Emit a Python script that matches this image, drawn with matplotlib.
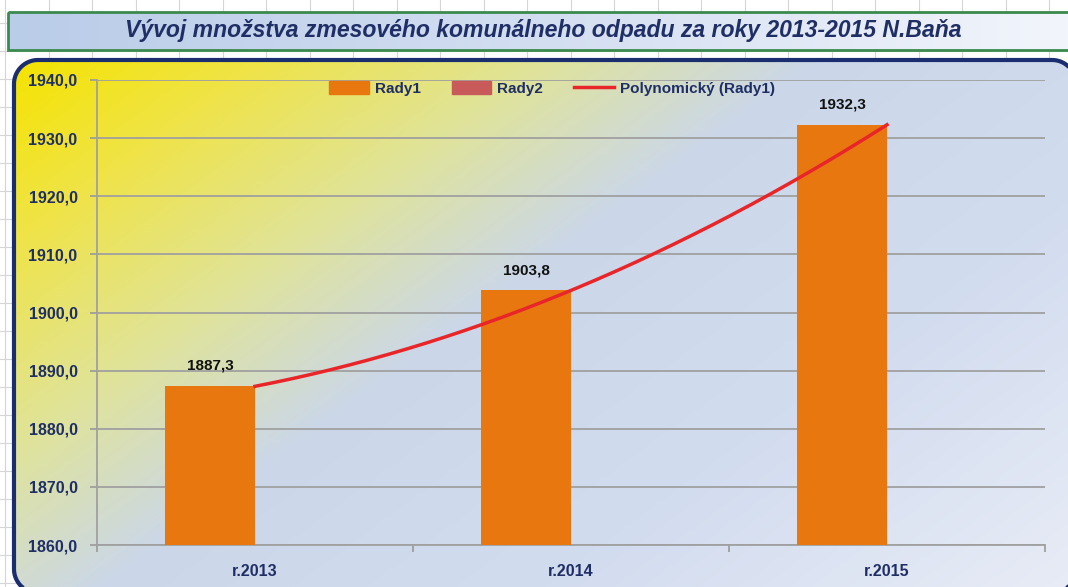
import numpy as np
import matplotlib.pyplot as plt
from matplotlib.patches import Rectangle, Patch, Polygon
from matplotlib.lines import Line2D
from matplotlib.colors import LinearSegmentedColormap

# data
categories = ['r.2013', 'r.2014', 'r.2015']
rady1 = [1887.3, 1903.8, 1932.3]
value_labels = ['1887,3', '1903,8', '1932,3']
y_ticks = [1860, 1870, 1880, 1890, 1900, 1910, 1920, 1930, 1940]
title = 'Vývoj množstva zmesového komunálneho odpadu za roky 2013-2015 N.Baňa'

W, H = 1068, 587
navy = '#1F2F66'
fig = plt.figure(figsize=(W / 100, H / 100), dpi=100)
fig.patch.set_facecolor('white')

# background layer in pixel coordinates
bg = fig.add_axes([0, 0, 1, 1])
bg.axis('off')

# spreadsheet grid behind the chart
for k in range(26):
    bg.plot([5 + 43.5 * k] * 2, [0, H], color='#d6d6d6', lw=0.8, zorder=0)
for k in range(-3, 20):
    bg.plot([0, W], [79 + 28 * k] * 2, color='#d6d6d6', lw=0.8, zorder=0)

# title box
tbox = Rectangle((8, 12), W - 6, 38, facecolor='none', edgecolor='#3a8a4e', lw=2, zorder=3)
bg.add_patch(tbox)
tgrad = np.linspace(0, 1, 256).reshape(1, -1)
tcmap = LinearSegmentedColormap.from_list('t', ['#b9cce8', '#d3def1', '#f2f5fb'])
im = bg.imshow(tgrad, cmap=tcmap, extent=[8, W + 2, 50, 12], aspect='auto', zorder=2)
im.set_clip_path(tbox)
bg.text(543, 31, title, ha='center', va='center', fontsize=16.6, fontweight='bold',
        fontstyle='italic', color=navy, family='Liberation Sans', zorder=4)

# chart area: rounded outline built from arcs
x0, y0, x1, y1, r = 14, 60, 1076, 593, 24
def arc(cx, cy, a0, a1):
    a = np.radians(np.linspace(a0, a1, 30))
    return np.column_stack([cx + r * np.cos(a), cy + r * np.sin(a)])
outline = np.vstack([arc(x0 + r, y0 + r, 180, 270), arc(x1 - r, y0 + r, 270, 360),
                     arc(x1 - r, y1 - r, 0, 90), arc(x0 + r, y1 - r, 90, 180)])
cbox = Polygon(outline, closed=True, facecolor='none', edgecolor='#1a2d6e', lw=3, zorder=3)
bg.add_patch(cbox)
xx, yy = np.meshgrid(np.linspace(0, x1 - x0, 400), np.linspace(0, y1 - y0, 250))
t = (xx * 390 + yy * 530) / ((x1 - x0) * 390 + (y1 - y0) * 530)
ccmap = LinearSegmentedColormap.from_list('c', [(0, '#f5e300'), (0.14, '#efe44a'),
                                                (0.30, '#dfe39c'), (0.45, '#cbd7e9'),
                                                (0.7, '#d2dcef'), (1, '#e8ecf6')])
im2 = bg.imshow(t, cmap=ccmap, vmin=0, vmax=1, extent=[x0, x1, y1, y0],
                aspect='auto', zorder=2)
im2.set_clip_path(cbox)
bg.set_xlim(0, W)
bg.set_ylim(H, 0)

# plot area
ax = fig.add_axes([97 / W, 1 - 545 / H, (1045 - 97) / W, (545 - 80) / H])
ax.set_facecolor('none')
x = np.arange(1, len(categories) + 1)
bw = 0.285
ax.bar(x - bw / 2, rady1, width=bw, color='#e8770f', zorder=3)

# polynomial trend (order 2)
coef = np.polyfit(x, rady1, 2)
xs = np.linspace(1, 3, 200)
ax.plot(xs, np.polyval(coef, xs), color='#e8262a', lw=2.5, zorder=4)

for xi, v, lab in zip(x, rady1, value_labels):
    ax.text(xi - bw / 2, v + 2.3, lab, ha='center', va='bottom', fontsize=11,
            fontweight='bold', color='#111111', family='Liberation Sans', zorder=5)

ax.set_xlim(0.5, 3.5)
ax.set_ylim(1860, 1940)
ax.set_yticks(y_ticks)
ax.set_yticklabels([f'{v},0' for v in y_ticks])
ax.set_xticks([0.5, 1.5, 2.5, 3.5])
ax.set_xticklabels([])
ax.set_xticks(x, minor=True)
ax.set_xticklabels(categories, minor=True)
ax.tick_params(axis='x', which='minor', length=0, pad=14)
ax.tick_params(axis='x', which='major', length=5, color='#999999', width=1.2)
ax.tick_params(axis='y', length=5, color='#999999', width=1.2, pad=9)
for lab in ax.get_yticklabels() + ax.get_xticklabels(minor=True):
    lab.set_fontweight('bold')
    lab.set_fontsize(11.5)
    lab.set_color(navy)
    lab.set_family('Liberation Sans')
ax.grid(axis='y', color='#a0a0a0', lw=1.3, zorder=1)
for s in ['top', 'right']:
    ax.spines[s].set_visible(False)
for s in ['left', 'bottom']:
    ax.spines[s].set_color('#a0a0a0')
    ax.spines[s].set_linewidth(1.3)

handles = [Patch(color='#e8770f'), Patch(color='#c95a5a'),
           Line2D([], [], color='#e8262a', lw=2.5)]
leg = ax.legend(handles, ['Rady1', 'Rady2', 'Polynomický (Rady1)'], ncol=3,
                loc='upper center', bbox_to_anchor=(0.48, 1.027), frameon=False,
                handlelength=2.6, handleheight=0.9, columnspacing=2.0, handletextpad=0.4,
                prop={'family': 'Liberation Sans', 'weight': 'bold', 'size': 11})
for txt in leg.get_texts():
    txt.set_color(navy)

fig.savefig('out.png', dpi=100)
